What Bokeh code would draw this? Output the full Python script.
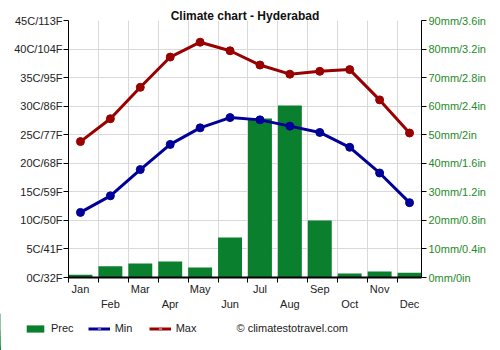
from bokeh.plotting import figure
from bokeh.layouts import column
from bokeh.models import (Range1d, LinearAxis, FixedTicker, Legend, LegendItem,
                          Label, ColumnDataSource)
from bokeh.embed import file_html
from bokeh.resources import INLINE

months = ["Jan", "Feb", "Mar", "Apr", "May", "Jun",
          "Jul", "Aug", "Sep", "Oct", "Nov", "Dec"]
prec = [1.0, 3.9, 4.9, 5.6, 3.5, 14.0, 55.7, 60.2, 20.0, 1.4, 2.1, 1.7]
tmin = [11.4, 14.3, 18.9, 23.3, 26.2, 28.0, 27.6, 26.5, 25.4, 22.8, 18.3, 13.1]
tmax = [23.8, 27.8, 33.3, 38.6, 41.2, 39.7, 37.2, 35.6, 36.1, 36.4, 31.1, 25.3]
temp_ticks = [0, 5, 10, 15, 20, 25, 30, 35, 40, 45]
temp_labels = ["0C/32F", "5C/41F", "10C/50F", "15C/59F", "20C/68F",
               "25C/77F", "30C/86F", "35C/95F", "40C/104F", "45C/113F"]
prec_ticks = [0, 10, 20, 30, 40, 50, 60, 70, 80, 90]
prec_labels = ["0mm/0in", "10mm/0.4in", "20mm/0.8in", "30mm/1.2in", "40mm/1.6in",
               "50mm/2in", "60mm/2.4in", "70mm/2.8in", "80mm/3.2in", "90mm/3.6in"]

FONT = "Liberation Sans"
C_PREC = "#0a7f2e"
C_MIN = "#000099"
C_MAX = "#990000"
C_RIGHT = "#1f8a2a"
C_TEXT = "#222222"

xs = list(range(12))
src = ColumnDataSource(dict(x=xs, month=months, prec=prec, tmin=tmin, tmax=tmax))

H_TOP = 313
p = figure(width=500, height=H_TOP, output_backend="svg", toolbar_location=None,
           x_range=Range1d(-0.4, 11.4), y_range=Range1d(0, 45),
           min_border_left=68, min_border_right=79, min_border_top=20,
           min_border_bottom=36, outline_line_color=None)
p.frame_align = False
p.extra_y_ranges = {"prec": Range1d(0, 90)}

p.title.text = "Climate chart - Hyderabad"
p.title.align = "center"
p.title.offset = 5
p.title.standoff = -4
p.title.text_font = FONT
p.title.text_font_size = "12px"
p.title.text_font_style = "bold"
p.title.text_color = "#111111"

# grids
bounds = [i - 0.4 for i in range(12)]
p.xgrid.ticker = FixedTicker(ticks=bounds)
p.xgrid.grid_line_color = "#d9d9d9"
p.ygrid.grid_line_color = "#d9d9d9"

# x axis: odd-month labels + boundary ticks
xa = p.xaxis[0]
xa.ticker = FixedTicker(ticks=xs[0::2], minor_ticks=bounds)
xa.major_label_overrides = {i: months[i] for i in xs[0::2]}
xa.major_tick_line_color = None
xa.major_tick_out = 0
xa.major_tick_in = 0
xa.minor_tick_out = 5
xa.minor_tick_in = 0
xa.minor_tick_line_color = "black"
xa.axis_line_color = "black"
xa.axis_line_width = 2
xa.major_label_standoff = 0
xa.major_label_text_font = FONT
xa.major_label_text_font_size = "11px"
xa.major_label_text_color = C_TEXT

xa2 = LinearAxis(ticker=FixedTicker(ticks=xs[1::2]),
                 major_label_overrides={i: months[i] for i in xs[1::2]})
xa2.axis_line_color = None
xa2.major_tick_line_color = None
xa2.minor_tick_line_color = None
xa2.major_tick_out = 0
xa2.major_label_standoff = 0
xa2.major_label_text_font = FONT
xa2.major_label_text_font_size = "11px"
xa2.major_label_text_color = C_TEXT
p.add_layout(xa2, "below")

# left axis
ya = p.yaxis[0]
ya.ticker = FixedTicker(ticks=temp_ticks)
ya.major_label_overrides = dict(zip(temp_ticks, temp_labels))
ya.major_tick_out = 5
ya.major_tick_in = 0
ya.minor_tick_line_color = None
ya.axis_line_color = "black"
ya.major_label_standoff = 1
ya.major_label_text_font = FONT
ya.major_label_text_font_size = "11px"
ya.major_label_text_color = C_TEXT

# right axis
ra = LinearAxis(y_range_name="prec", ticker=FixedTicker(ticks=prec_ticks),
                major_label_overrides=dict(zip(prec_ticks, prec_labels)))
ra.major_tick_out = 5
ra.major_tick_in = 0
ra.minor_tick_line_color = None
ra.axis_line_color = "black"
ra.major_label_standoff = 2
ra.major_label_text_font = FONT
ra.major_label_text_font_size = "11px"
ra.major_label_text_color = C_RIGHT
p.add_layout(ra, "right")

# glyphs
p.vbar(x="x", top="prec", width=0.8, source=src, y_range_name="prec",
       fill_color=C_PREC, line_color=None)
p.line("x", "tmin", source=src, line_color=C_MIN, line_width=3)
p.scatter("x", "tmin", source=src, size=8, fill_color=C_MIN, line_color=C_MIN)
p.line("x", "tmax", source=src, line_color=C_MAX, line_width=3)
p.scatter("x", "tmax", source=src, size=8, fill_color=C_MAX, line_color=C_MAX)

# legend strip below the chart (its data range lies away from the series,
# so the proxy glyphs only show up as legend swatches)
H_BOT = 350 - H_TOP
X0 = 100
q = figure(width=500, height=H_BOT, output_backend="svg", toolbar_location=None,
           x_range=Range1d(X0, X0 + 500), y_range=Range1d(0, H_BOT),
           min_border=0, outline_line_color=None)
q.frame_align = False
q.axis.visible = False
q.grid.visible = False
gb = q.vbar(x="x", top="prec", width=0.8, source=src, fill_color=C_PREC, line_color=None)
gl1 = q.line("x", "tmin", source=src, line_color=C_MIN, line_width=3)
gs1 = q.scatter("x", "tmin", source=src, size=4, fill_color="#6666cc", line_color=None)
gl2 = q.line("x", "tmax", source=src, line_color=C_MAX, line_width=3)
gs2 = q.scatter("x", "tmax", source=src, size=4, fill_color="#cc6666", line_color=None)

legend = Legend(items=[LegendItem(label="Prec", renderers=[gb]),
                       LegendItem(label="Min", renderers=[gl1, gs1]),
                       LegendItem(label="Max", renderers=[gl2, gs2])],
                orientation="horizontal", location=(24, 16),
                glyph_width=22, glyph_height=9, label_standoff=5, spacing=14,
                padding=0, margin=0, border_line_color=None,
                background_fill_alpha=0,
                label_text_font=FONT, label_text_font_size="11px",
                label_text_color=C_TEXT)
q.add_layout(legend)

credit = Label(x=X0 + 236, y=H_BOT - 14, text="\u00a9 climatestotravel.com",
               text_align="left", text_baseline="middle", text_font=FONT,
               text_font_size="11px", text_color=C_TEXT)
q.add_layout(credit)

layout = column(p, q, spacing=0)
open("out.html", "w").write(file_html(layout, INLINE))
